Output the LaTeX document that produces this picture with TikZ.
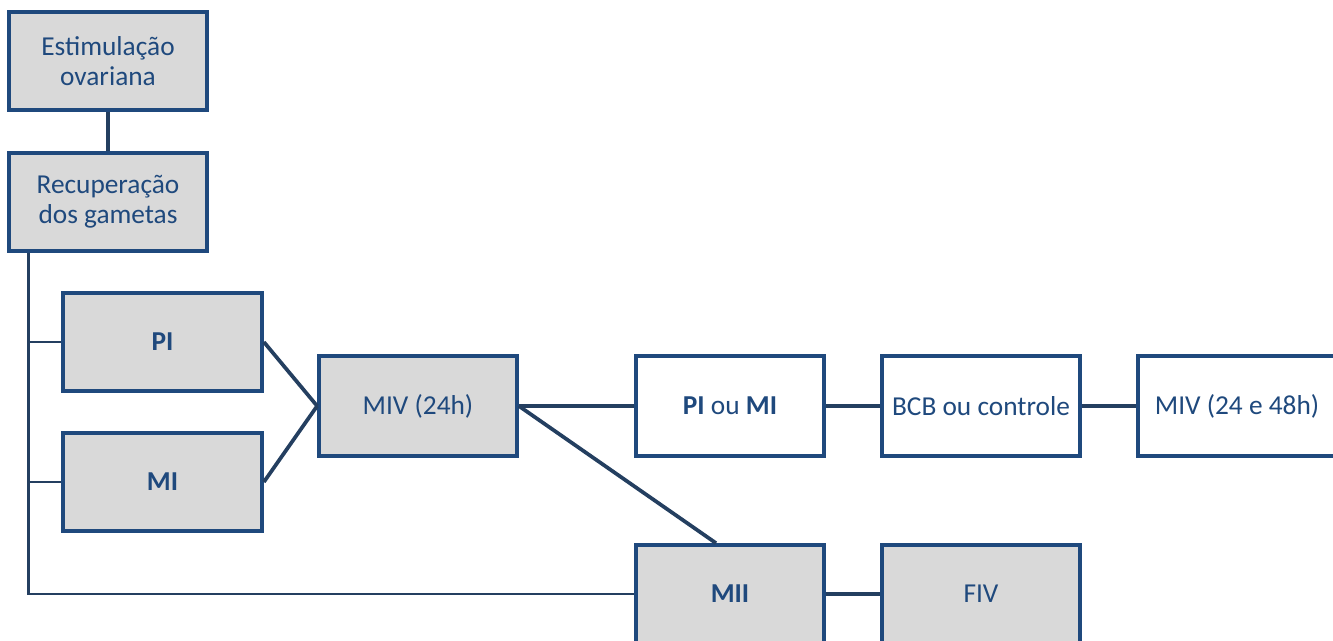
\documentclass[tikz,border=0pt]{standalone}
\usepackage{fontspec}
\setmainfont{Carlito}
\usepackage{tikz}
\definecolor{boxblue}{HTML}{1F497D}
\definecolor{lineblue}{HTML}{243F60}
\definecolor{boxgray}{HTML}{D9D9D9}

\begin{document}
\begin{tikzpicture}[x=0.75pt,y=-0.75pt,blk/.style n args={3}{draw=boxblue,line width=2.8pt,fill=#1,minimum width=#2*0.75pt,minimum height=#3*0.75pt,text=boxblue,align=center,font=\fontsize{20.5}{22.5}\selectfont,inner sep=0pt},con/.style={lineblue,line width=2.8pt}]
\useasboundingbox (0,0) rectangle (1333,641);
\clip (0,0) rectangle (1333,641);
\node[blk={boxgray}{198}{98}] (estim) at (108,61) {Estimulação\\ovariana};
\node[blk={boxgray}{198}{98}] (recup) at (108,202) {Recuperação\\dos gametas};
\node[blk={boxgray}{199}{98}] (pi) at (162.5,342) {\textbf{PI}};
\node[blk={boxgray}{199}{98}] (mi) at (162.5,482) {\textbf{MI}};
\node[blk={boxgray}{198}{100}] (miv) at (418,406) {MIV (24h)};
\node[blk={white}{188}{100}] (pioumi) at (730,406) {\textbf{PI} ou \textbf{MI}};
\node[blk={white}{198}{100}] (bcb) at (981,406) {BCB ou controle};
\node[blk={white}{198}{100}] (miv48) at (1237,406) {MIV (24 e 48h)};
\node[blk={boxgray}{188}{98}] (mii) at (730,594) {\textbf{MII}};
\node[blk={boxgray}{198}{98}] (fiv) at (981,594) {FIV};
\coordinate (trunk) at ([xshift=21*0.75pt]recup.south west);
\draw[con] (estim) -- (recup);
\draw[con,line width=2.2pt] (trunk) |- (mii.west);
\foreach \n in {pi,mi} {
   \draw[con,line width=2.2pt] (trunk |- \n.west) -- (\n.west);
   \draw[con] (\n.east) -- (miv.west);
}
\draw[con] (miv.east) -- (pioumi.west);
\draw[con] (miv.east) -- ([xshift=-14*0.75pt]mii.north);
\draw[con] (pioumi) -- (bcb);
\draw[con] (bcb) -- (miv48);
\draw[con] (mii) -- (fiv);
\end{tikzpicture}
\end{document}
